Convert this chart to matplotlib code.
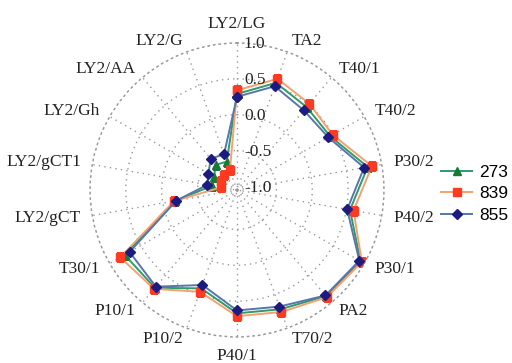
import numpy as np
import matplotlib
matplotlib.use("Agg")
import matplotlib.pyplot as plt

# categories, clockwise from the top
categories = ["LY2/LG", "TA2", "T40/1", "T40/2", "P30/2", "P40/2", "P30/1", "PA2",
              "T70/2", "P40/1", "P10/2", "P10/1", "T30/1", "LY2/gCT", "LY2/gCT1",
              "LY2/Gh", "LY2/AA", "LY2/G"]

s273 = [0.29, 0.54, 0.46, 0.45, 0.80, 0.55, 0.94, 0.88, 0.72, 0.67, 0.41, 0.73,
        0.76, -0.17, -0.70, -0.68, -0.59, -0.63]
s839 = [0.34, 0.60, 0.52, 0.49, 0.86, 0.60, 0.96, 0.90, 0.76, 0.71, 0.46, 0.75,
        0.83, -0.16, -0.83, -0.79, -0.77, -0.76]
s855 = [0.25, 0.49, 0.40, 0.42, 0.75, 0.51, 0.92, 0.87, 0.68, 0.63, 0.36, 0.71,
        0.68, -0.19, -0.63, -0.59, -0.48, -0.52]

rticks = [-1.0, -0.5, 0.0, 0.5, 1.0]
rlabels = ["-1.0", "-0.5", "0.0", "0.5", "1.0"]

serif = "Liberation Serif"
dot = (0, (1, 3))
gridc = "#999999"

fig = plt.figure(figsize=(5.12, 3.63), dpi=100)
ax = fig.add_axes([90 / 512, 26 / 363, 294 / 512, 294 / 363], projection="polar")
ax.set_theta_offset(np.pi / 2)
ax.set_theta_direction(-1)

n = len(categories)
theta = np.arange(n) * 2 * np.pi / n
closed = np.append(theta, theta[0])


def loop(v):
    return np.append(v, v[0])


ax.plot(closed, loop(s273), color="#2f9a6a", lw=1.4, marker="^", ms=6,
        mfc="#157a35", mec="#157a35", label="273", zorder=3)
ax.plot(closed, loop(s839), color="#f5a070", lw=1.4, marker="s", ms=6,
        mfc="#ff3a20", mec="#ff3a20", label="839", zorder=4)
ax.plot(closed, loop(s855), color="#5577aa", lw=1.4, marker="D", ms=5,
        mfc="#1c1c80", mec="#1c1c80", label="855", zorder=5)

ax.set_ylim(-1.05, 1.0)
ax.set_yticks(rticks)
ax.set_yticklabels([])
ax.set_xticks(theta)
ax.set_xticklabels([])
ax.grid(True, color=gridc, linestyle=dot, linewidth=1.0)
ax.spines["polar"].set_linestyle(dot)
ax.spines["polar"].set_color(gridc)
ax.spines["polar"].set_linewidth(1.0)

for v, t in zip(rticks, rlabels):
    ax.annotate(t, xy=(0, v), xytext=(5, -1), textcoords="offset points",
                ha="left", va="center", fontsize=12.5, family=serif,
                color="#222222", zorder=6)

for ang, name in zip(theta, categories):
    c = np.sin(ang)
    s = np.cos(ang)
    if c > 0.1:
        ha = "left"
    elif c < -0.1:
        ha = "right"
    else:
        ha = "center"
    if s > 0.95:
        va = "bottom"
    elif s < -0.95:
        va = "top"
    else:
        va = "center"
    ax.text(ang, 1.16, name, ha=ha, va=va, fontsize=12.5, family=serif,
            color="#222222", clip_on=False)

fig.legend(loc="upper left", bbox_to_anchor=(441 / 512, 1 - 165 / 363),
           frameon=False, handlelength=1.8, handletextpad=0.4,
           labelspacing=0.35, borderpad=0, borderaxespad=0,
           prop={"family": "Liberation Sans", "size": 12.5})

fig.savefig("out.png", dpi=100)
